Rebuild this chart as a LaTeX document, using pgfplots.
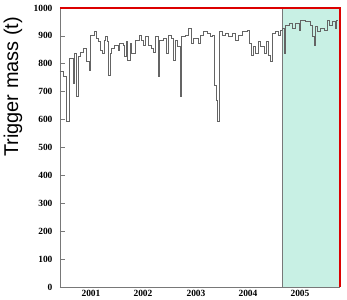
\documentclass[border=0pt]{standalone}
\usepackage{pgfplots}
\pgfplotsset{compat=1.18}
\usepackage{fontspec}
\setmainfont{Liberation Serif}
\newfontfamily\labfont{Liberation Sans}
\definecolor{myshade}{RGB}{200,240,228}
\definecolor{linegray}{RGB}{100,100,100}
\definecolor{axgray}{RGB}{120,120,120}
\definecolor{myred}{RGB}{220,0,0}
\pgfplotstableread{
x y
0 772
3 754
6 593
9 820
13 731
14.7 838
16.3 682
18 826
20 843
23 855
26 808
29.7 778
30.7 903
34 915
36.3 892
38.7 880
40.7 850
42.3 838
44 885
45.7 897
47.3 880
48.7 760
50 838
51.3 855
54.7 867
58 850
59.7 873
63 867
64 826
66 880
67.7 814
70 873
71.7 838
75 885
79 903
81.7 885
83.3 867
85.7 897
88.3 867
91 855
93.3 843
95.7 897
98.3 754
99.7 885
103.3 892
106.7 838
108.3 903
111 892
113.3 814
115.7 885
117.7 861
120 682
121.7 897
125 903
128.3 927
131.7 873
133.3 892
138 873
140.3 903
143.7 915
147 910
150.3 897
152.7 903
154.3 724
156 670
157.7 593
159.3 915
162 903
165.3 910
168.7 897
172 910
175.3 885
178.7 903
182 915
187 921
189.3 873
191.3 832
193.7 861
195.3 838
198 880
200.3 861
204 838
206.3 880
208.3 832
210.7 808
212.3 910
215.7 915
218.3 903
220.7 921
222.3 927
224 838
225.7 939
229 945
232.3 927
235.7 945
239 921
240.7 957
245.7 951
250.7 939
252.3 897
254 867
255.5 933
257.3 915
260.7 927
264 921
267.3 957
269.7 939
272.3 951
275 927
276.7 957
278.5 957
}\mass
\begin{document}
\begin{tikzpicture}
\useasboundingbox (-60bp,-13bp) rectangle (287bp,287bp);
\begin{axis}[
  scale only axis,
  width=280bp, height=279bp,
  xmin=0, xmax=280, ymin=0, ymax=1000,
  axis line style={axgray, line width=0.6pt},
  axis x line*=bottom, axis y line*=left,
  ytick={0,100,...,1000},
  xtick={31,83,136,188,240},
  xticklabels={2001,2002,2003,2004,2005},
  x tick style={draw=none},
  y tick style={axgray, line width=0.6pt},
  tick align=inside,
  major tick length=5bp,
  minor xtick={52,104,156,208,262},
  minor tick length=2bp,
  minor x tick style={axgray},
  /pgf/number format/assume math mode=true,
  /pgf/number format/1000 sep={},
  ticklabel style={font=\bfseries\fontsize{9.5}{9.5}\selectfont},
  yticklabel style={xshift=-4bp},
  xticklabel style={yshift=0bp},
  ylabel={\labfont\fontsize{20}{20}\selectfont Trigger mass (t)},
  ylabel style={at={(axis description cs:-0.168,0.717)}, anchor=center},
  clip=false,
]
\fill[myshade] (axis cs:222,0) rectangle (axis cs:280,1000);
\draw[axgray, line width=0.6pt] (axis cs:222,0) -- (axis cs:222,1000);
\addplot[const plot, color=linegray, line width=0.6pt] table[x=x,y=y] {\mass};
\draw[myred, line width=2.2bp] (axis cs:0,1000) -- (axis cs:280,1000) -- (axis cs:280,0);
\end{axis}
\end{tikzpicture}
\end{document}
